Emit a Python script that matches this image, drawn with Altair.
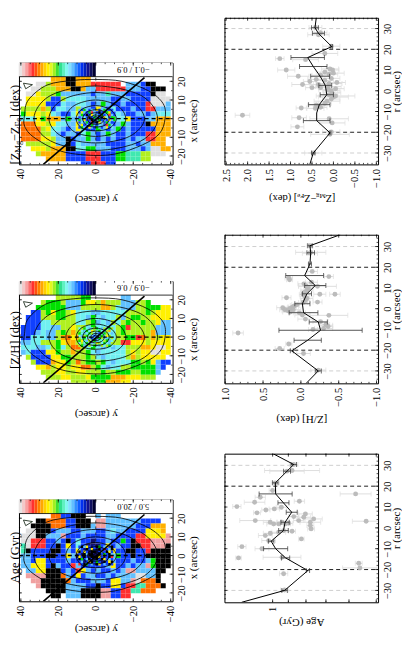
import altair as alt
import pandas as pd

SERIF = "Liberation Serif"
PAL = {"a":"#e0e0e0","p":"#f0a0a0","r":"#ff3030","o":"#ff7000","m":"#ffb000","y":"#fff000","l":"#b0f020",
       "g":"#00e000","t":"#40e8b0","c":"#70f0f0","s":"#60c0ff","b":"#1040ff","d":"#0020c0","n":"#101070","k":"#000000"}
CBAR = ["#e8e4e4","#f4c8c8","#f8a0a0","#fc6c6c","#ff3030","#ff5010","#ff8000","#ffa800","#ffd000","#fff000",
        "#e0f820","#a0f020","#40e030","#30e090","#60f0c0","#80f8f0","#80e0ff","#60c0ff","#3090ff","#1060ff",
        "#0030f0","#0020c0","#101090","#101060","#000030"]

MAP_Z = ["......mmmkkmmm................",
"...aalmmmkkmmmrrrrrr.sssbkk...",
"..aalllmmmkkmssrrrrrrsssbbkkk.",
".aaylllgssssssbsstsssbbbbbkaa.",
".yyyylbblccccsssssbbssbbbbaaaa",
".yyyybbbcssccsbsgsbbsbbbbraaas",
"llllmlbccsslssbysbcbbbsbbrrsss",
"gyyylycsbbcysbsbsgbcsbbssbsccc",
"cccygmmmsgssbybkbygccybbbssmmm",
"oooyylyccssybbkbysbsgsbbbkmmmm",
"oooolyccsbsysbbgsbsgbsbbbbbmmm",
"oooollcsbssbcgsbsgsbbsbbbrrmmm",
"ooooyylsskbssgsbsbsbbsbssrrmm.",
".lllllysskbcsssssbbbbssbssmmm.",
"..yyylmmmkkccggsssbbbsssbsaamm",
"...lmmmmmbbbbrrrbbbggtttllaaa.",
".....mmmmbbbbrrrbbbggtttll....",
"............bbrrrbb..........."]
MAP_H = [".......lllllgg......ss........",
"....lggglsssgyylmlllsssllg....",
"...ggggggsssllllmmlcsssllgggyy",
"..bblgygglycccsscccccllllglyyy",
".bbblllggllccsgcscclslggllyyyy",
".bbbcclllllcclgscslclgllgllyss",
"bbbbccssllyllcgcccclgrlllllsss",
"bbbscsslglmlgsccscclglllllmsss",
"bbcccsslmoymgysbsgcllggrolmlyy",
"sscclllgymmlgllgcsllrryyylyyyy",
"cccssclgcloolcgcscscclllmmyaay",
"scbbbyygllmllgcsccccclylyyaayy",
".lbbbbyygglllglcscccclmlyyyyy.",
"..lbbbmyyglolgglgcscccgglgysbb",
"...yymlyylyyoolgcsccllgggggsb.",
"....lllyyllyylllgllgggllgggs..",
".....lllyylllyggggmmmyyylll...",
"..........lllllggmmmyy........"]
MAP_A = ["......oobbkkk..s.sss..........",
"...kkoooobbkkk.ppsssssssbbbb..",
"..kkkkooobbkkksppssssssbbbmmm.",
".aakkkbsssbbsssbbscssbbbbyyym.",
"aaakkssspbbbsbbbbssbbbbrryyyyp",
"aarrrbbsbkbcbbnbbsbbgbkrrrpppp",
"tarrrbbkbybcbnnnbybsbbkkrrpppk",
"tkbbbbkkbsbybkkkbsybbkkbbrkkkk",
"ssbbbkkbbysnkknnybsgbbkbbkkkkk",
"ssbyybbbbsbbnknbbysbbbsbbsgkkk",
"ssyyybksbbrsbbbbbsybbsbsspgkkk",
".ssyykkkbsbrysbsbbsbsppsssskk.",
".ppppkkkosbybssbbsbssssaassk..",
"..ppkkkkkosbbbsssbyysspaoook..",
"...pkkkkkssssbbkbbyybrrttoook.",
".....kkkkssskkkkppbbrrttooo...",
"......kk.ssskkkkppbbrr........",
".............................."]
FINE_Z = ["sbgsbcsybsgsbb","bysbgrsbkbsgyb","sgbkbyscbgbsrs","bscbkbgsbkycbg",
          "gsybbkbsgbsbys","bcsgbrbkysbgsb","sybsbgsbcsbrgs","bgsbysbgsbsybc"]
FINE_H = ["clgcsclgcslcgl","lcsgcylcgcslmc","gcscglcsbcglcs","cslgcsbscgcylc",
          "lcgcsbscglcscl","gycslcgscclgsc","clcgcscylcgcsl","lgsclcgcslclgc"]
FINE_A = ["bksybnbkgbsybk","sbnkbybnkbrbsk","kbybnkknbsbkyb","bnkskknnkbgbks",
          "ybkbnkkkybnbkr","kgbskbnkbkybsb","bsnbykbgbnkbyk","rbkgbsbkybsbkb"]
CONT_Y = [[38,36,26,12,0,-14,-28,-36,-37,-34,-25,-10,5,20,33,38],
          [33,24,0,-24,-33,-24,0,24],[25,18,0,-18,-26,-18,0,18],[16,11.5,0,-11.5,-16,-11.5,0,11.5],
          [10.5,7.5,0,-7.5,-11,-7.5,0,7.5],[7,5,0,-5,-7.2,-5,0,5],[4.4,3.1,0,-3.1,-4.6,-3.1,0,3.1],
          [2.7,1.9,0,-1.9,-2.8,-1.9,0,1.9],[1.4,1,0,-1,-1.4,-1,0,1]]
CONT_X = [[2,10,18,20.5,21,20,15,8,0,-8,-14,-19,-19.5,-17,-10,-4],
          [0,12.5,17.5,12.5,0,-12,-17,-12],[0,10,14,10,0,-9.5,-13,-9.5],[0,7,10,7,0,-7,-9.5,-7],
          [0,5,7,5,0,-5,-6.5,-5],[0,3.4,4.8,3.4,0,-3.4,-4.5,-3.4],[0,2.3,3.2,2.3,0,-2.3,-3.1,-2.3],
          [0,1.4,2,1.4,0,-1.4,-2,-1.4],[0,.7,1,.7,0,-.7,-1,-.7]]
TRI_Y = [38.6,33.8,37.4,38.6]
TRI_X = [19,18.2,16,19]
DIAG_Y = [28,-26]
DIAG_X = [-24.5,22]

# profile: r, value, half-error
Z_R = [-30,-21,-19.8,-17.4,-15.5,-13,-11.8,-13.5,-8.3,-8.5,-8,-7.5,-6.8,-6,-5,-4,-3,-2.5,-2,-1,0,.5,1,1.5,1.5,2,3,3,3.5,4,4.5,5,5.5,6,7,7.5,8,8.5,9,10,10,10.5,15.5,15,18,21.5,27,28,30.5]
Z_V = [.47,.08,.05,.84,.03,.8,2.12,.1,.75,.42,.3,.35,.4,.2,.15,.05,0,-.05,.1,.03,.05,.12,-.05,.3,.5,.12,.72,.35,.1,-.08,.55,.2,.4,.05,.82,.3,.1,0,.2,1.1,.02,.08,1.25,.65,.2,.05,.35,.3,.42]
Z_E = [.2,.45,.2,.15,.3,.17,.17,.45,.12,.2,.15,.12,.2,.15,.3,.2,.35,.45,.2,.2,.2,.22,.2,.2,.15,.3,.25,.2,.3,.2,.15,.2,.2,.2,.25,.2,.2,.25,.2,.2,.15,.2,.1,.3,.3,.2,.25,.15,.15]
Z_LR = [-35.5,-30,-20.3,-14.4,-10.7,-6.7,-1.9,2.6,7,11.7,16,21.3,27.7,30.4,35.2]
Z_LV = [.55,.47,.08,.39,.39,.33,.155,.19,.31,.47,.6,.04,.35,.43,.4]
Z_LE = [0,.04,.02,.31,0,.25,.155,.15,.22,.32,.39,.02,.14,.08,0]

H_R = [-11.7,-19.2,-17,-21.6,-29.6,30.4,27.2,26.8,18,15.5,14.8,14,12.8,10.8,7,7,5.3,3.2,.5,-.5,-1,-1.6,-3.2,-5,-6.2,-7.6,-8.6,-9.5,-10,-8,9,8,7,6,5,4,3,2,1.5,1,.5,0,-.5,11,10,12,-2,-3]
H_V = [.83,.28,.16,-.035,-.23,-.12,-.13,-.12,-.15,-.37,.16,.15,-.14,-.22,-.45,-.25,.19,-.22,.24,.21,.17,.14,-.37,-.06,-.26,-.33,-.36,-.3,-.16,-.34,-.08,-.05,-.03,-.05,-.08,-.06,-.03,.05,.08,.1,.12,.15,.1,-.07,-.1,-.04,.02,-.02]
H_E = [.07,.06,.04,.09,.1,.04,.2,.1,.07,.06,.05,.04,.08,.25,.07,.08,.06,.06,.08,.07,.08,.1,.25,.1,.1,.05,.06,.12,.06,.08,.08,.05,.05,.06,.08,.06,.06,.07,.06,.07,.06,.05,.1,.1,.06,.08,.08,.1]
H_LR = [-36,-30,-20.3,-15.2,-10.4,-6.4,-1.9,2.4,7.2,11.2,16,21.6,27,30.4,35.7]
H_LV = [-.07,-.23,.12,-.09,-.26,-.23,-.035,-.02,-.08,-.19,-.05,-.12,-.13,-.12,-.52]
H_LE = [0,.04,.02,.18,.55,.12,.19,.1,.06,.14,.25,.02,.05,.03,0]

A_R = [16.3,3.2,12.8,12.3,14.7,17.9,7.2,8.6,9.1,9.9,10.2,-14.4,-9,-10,3.5,6.7,5.1,3.5,4.3,2.7,1.1,-.5,5.4,2.7,1.9,1.9,2.7,1.9,2.2,-2.6,-2.1,-1.3,-1.6,-5.3,-6.1,-3.7,27.2,27.5,30.4,21.6,-14.1,-17,-19.2,-22,-29.8]
A_V = [.574,.535,.836,1.128,1.086,1.0,1.11,1.046,.989,.943,1.27,1.256,1.228,1.074,1.123,.803,.812,.84,.76,.777,.777,.773,.868,1.016,.993,.96,.939,.918,.898,1.016,.96,.929,.878,.825,1.027,1.05,.908,.878,.868,.982,.939,.562,.558,.929,.923]
A_E = [.045,.04,.015,.03,.015,.01,.01,.012,.015,.015,.012,.008,.012,.02,.045,.02,.02,.015,.025,.03,.01,.01,.015,.02,.02,.015,.015,.015,.012,.02,.02,.01,.01,.008,.02,.02,.05,.08,.012,.012,.055,.01,.05,.012,.012]
A_LR = [-35.7,-30,-20.5,-14.4,-10,-6.4,-1.3,2.7,7.5,12,16.3,21.6,27.2,30.4,35.5]
A_LV = [1.23,.923,.79,.917,.98,1.01,.93,.92,.88,.93,.98,.982,.908,.868,.995]
A_LE = [0,.008,.005,.012,.035,.008,.014,.012,.016,.016,.048,.008,.01,.008,0]

V_MIN = dict(y=[x for x in range(-40,41,5)], x=[x for x in range(-20,21,5)])

def rects(rows, y_start, x_start, cell):
    out = []
    for j, row in enumerate(rows):
        for i, ch in enumerate(row):
            if ch != ".":
                out.append(dict(a=y_start-i*cell, a2=y_start-(i+1)*cell, b=x_start-j*cell, b2=x_start-(j+1)*cell, c=PAL[ch]))
    return pd.DataFrame(out)

def inner_ticks(xs, ys, sx, sy, w, h, xfield_log=False, size=3):
    layers = []
    for t0, t1 in ((0, size), (h - size, h)):
        layers.append(alt.Chart(pd.DataFrame({"t": xs})).mark_rule(color="black", strokeWidth=.7).encode(
            x=alt.X("t:Q", scale=sx, axis=None), y=alt.value(t0), y2=alt.value(t1)))
    for t0, t1 in ((0, size), (w - size, w)):
        layers.append(alt.Chart(pd.DataFrame({"t": ys})).mark_rule(color="black", strokeWidth=.7).encode(
            y=alt.Y("t:Q", scale=sy, axis=None), x=alt.value(t0), x2=alt.value(t1)))
    return layers

def base_axes(xv, yv, sx, sy, xtitle, ytitle, xfmt=None, title_pad=22, y_title_y=None, y_title_pad=9, xlab=None):
    ax = dict(values=xlab or xv, orient="bottom", labelAngle=270, labelAlign="right", labelBaseline="middle", ticks=False,
              domain=False, grid=False, labelPadding=4, title=xtitle if xtitle else None, titleAngle=180,
              titlePadding=title_pad, titleFontWeight="normal", labelFlush=False, labelOverlap=False, titleX=77)
    if xfmt: ax["format"] = xfmt
    ay = dict(values=yv, orient="right", labelAngle=270, labelAlign="center", labelBaseline="top", ticks=False,
              domain=False, grid=False, labelPadding=4, title=ytitle, titleAngle=270, titlePadding=y_title_pad,
              titleFontWeight="normal", labelFlush=False, labelOverlap=False)
    if y_title_y is not None: ay["titleY"] = y_title_y
    n = max(len(xv), len(yv))
    d = pd.DataFrame({"a": (xv * n)[:n], "b": (yv * n)[:n]})
    return alt.Chart(d).mark_point(opacity=0).encode(
        x=alt.X("a:Q", scale=sx, axis=alt.Axis(**ax)),
        y=alt.Y("b:Q", scale=sy, axis=alt.Axis(**ay)))

def map_panel(rows, fine, vmin, vmax, pieces, h=102, tpad=22):
    W = 154
    sx = alt.Scale(domain=[41, -41], nice=False, zero=False)
    sy = alt.Scale(domain=[-24.5, 30], nice=False, zero=False)
    X = lambda f: alt.X(f, type="quantitative", scale=sx, axis=None)
    Y = lambda f: alt.Y(f, type="quantitative", scale=sy, axis=None)
    L = [base_axes([40,20,0,-20,-40], [20,10,0,-10,-20], sx, sy, "y (arcsec)", "x (arcsec)",
                   title_pad=tpad, y_title_y=58, y_title_pad=11)]
    for df in (rects(rows, 40, 22.5, 8/3), rects(fine, 9.33, 5.33, 4/3)):
        L.append(alt.Chart(df).mark_rect(clip=True, strokeWidth=0).encode(
            x=X("a"), x2=alt.X2("a2"), y=Y("b"), y2=alt.Y2("b2"), color=alt.Color("c:N", scale=None)))
    cd = pd.DataFrame([dict(n=k, o=i, a=a, b=b) for k, (ya, xa) in enumerate(zip(CONT_Y, CONT_X)) for i, (a, b) in enumerate(zip(ya, xa))])
    L.append(alt.Chart(cd).mark_line(interpolate="cardinal-closed", tension=0, color="black", strokeWidth=.8, clip=True).encode(
        x=X("a"), y=Y("b"), detail="n:N", order="o:Q"))
    L.append(alt.Chart(pd.DataFrame({"b": [0]})).mark_rule(color="black", strokeWidth=1.4, strokeDash=[4, 3]).encode(
        y=Y("b"), x=alt.value(0), x2=alt.value(W)))
    L.append(alt.Chart(pd.DataFrame({"a": [0], "b": [-24.5], "b2": [22.5]})).mark_rule(color="black", strokeWidth=.7, strokeDash=[3, 3]).encode(
        x=X("a"), y=Y("b"), y2=alt.Y2("b2")))
    L.append(alt.Chart(pd.DataFrame({"a": DIAG_Y, "b": DIAG_X})).mark_line(color="black", strokeWidth=1.6, clip=True).encode(x=X("a"), y=Y("b")))
    L.append(alt.Chart(pd.DataFrame({"a": TRI_Y, "b": TRI_X, "o": range(4)})).mark_line(color="#203020", strokeWidth=.9).encode(x=X("a"), y=Y("b"), order="o:Q"))
    st = 41 / len(CBAR)
    bar = pd.DataFrame([dict(a=41 - i*st, a2=41 - (i+1)*st, b=22.5, b2=30, c=c) for i, c in enumerate(CBAR)])
    L.append(alt.Chart(pd.DataFrame({"a":[41],"a2":[-41],"b":[22.5],"b2":[30]})).mark_rect(color="white").encode(x=X("a"),x2=alt.X2("a2"),y=Y("b"),y2=alt.Y2("b2")))
    L.append(alt.Chart(bar).mark_rect(strokeWidth=0).encode(x=X("a"), x2=alt.X2("a2"), y=Y("b"), y2=alt.Y2("b2"), color=alt.Color("c:N", scale=None)))
    L.append(alt.Chart(pd.DataFrame({"b": [22.5]})).mark_rule(color="black", strokeWidth=.8).encode(y=Y("b"), x=alt.value(0), x2=alt.value(W)))
    L.append(alt.Chart(pd.DataFrame({"a": [-20], "b": [26.2], "t": [f"{vmin}   /   {vmax}"]})).mark_text(
        angle=180, fontSize=8.5, font=SERIF, color="black").encode(x=X("a"), y=Y("b"), text="t:N"))
    L += inner_ticks([40,20,0,-20,-40], [20,10,0,-10,-20], sx, sy, W, h, size=3)
    L += inner_ticks(V_MIN["y"], V_MIN["x"], sx, sy, W, h, size=1.5)
    for txt, pos, fs, dx in pieces:
        L.append(alt.Chart(pd.DataFrame({"t": [txt]})).mark_text(angle=270, fontSize=fs, font=SERIF, color="black", align="left", baseline="alphabetic").encode(
            x=alt.value(dx), y=alt.value(pos), text="t:N"))
    return alt.layer(*L).resolve_axis(x="independent", y="independent").properties(width=W, height=h)

def prof_panel(R, V, E, LR, LV, LE, dom, rdom, h, xv, xminor, ytitle_x, fmt, log=False, tpad=24, pieces=None, xlab=None):
    W = 154
    sx = alt.Scale(domain=dom, nice=False, zero=False, type="log" if log else "linear")
    sy = alt.Scale(domain=rdom, nice=False, zero=False)
    X = lambda f: alt.X(f, type="quantitative", scale=sx, axis=None)
    Y = lambda f: alt.Y(f, type="quantitative", scale=sy, axis=None)
    L = [base_axes(xv, [-30,-20,-10,0,10,20,30], sx, sy, ytitle_x, "r (arcsec)", xfmt=fmt, title_pad=tpad, y_title_y=h/2, y_title_pad=9, xlab=xlab)]
    def lo(v, e): return v / 10**e if log else v - e
    def hi(v, e): return v * 10**e if log else v + e
    g = pd.DataFrame({"r": R, "v": V, "l": [lo(v,e) for v,e in zip(V,E)], "h": [hi(v,e) for v,e in zip(V,E)]})
    for r0, col, dash in ((30,"#cfcfcf",[4,3]),(-30,"#cfcfcf",[4,3]),(20,"#222222",[4,3]),(-20,"#222222",[4,3])):
        L.append(alt.Chart(pd.DataFrame({"r":[r0]})).mark_rule(color=col, strokeWidth=1, strokeDash=dash).encode(y=Y("r"), x=alt.value(0), x2=alt.value(W)))
    L.append(alt.Chart(g).mark_rule(color="#dedede", strokeWidth=1, clip=True).encode(x=X("l"), x2=alt.X2("h"), y=Y("r")))
    for f in ("l", "h"):
        L.append(alt.Chart(g).mark_tick(orient="vertical", size=5, thickness=1, color="#dedede", clip=True).encode(x=X(f), y=Y("r")))
    L.append(alt.Chart(g).mark_circle(size=24, color="#b8b8b8", opacity=.95, clip=True).encode(x=X("v"), y=Y("r")))
    b = pd.DataFrame({"r": LR, "v": LV, "l": [lo(v,e) for v,e in zip(LV,LE)], "h": [hi(v,e) for v,e in zip(LV,LE)]})
    be = b[[e > 0 for e in LE]]
    L.append(alt.Chart(be).mark_rule(color="#555555", strokeWidth=1, clip=True).encode(x=X("l"), x2=alt.X2("h"), y=Y("r")))
    for f in ("l", "h"):
        L.append(alt.Chart(be).mark_tick(orient="vertical", size=5, thickness=1, color="#333333", clip=True).encode(x=X(f), y=Y("r")))
    L.append(alt.Chart(b).mark_line(color="black", strokeWidth=1, clip=True).encode(x=X("v"), y=Y("r"), order="r:Q"))
    L += inner_ticks(xv, [-30,-20,-10,0,10,20,30], sx, sy, W, h, size=3)
    L += inner_ticks(xminor, list(range(-34, 35, 2)), sx, sy, W, h, size=1.5)
    for txt, pos, fs, dy in (pieces or []):
        L.append(alt.Chart(pd.DataFrame({"t": [txt]})).mark_text(angle=180, fontSize=fs, font=SERIF, color="black", align="left", baseline="middle").encode(
            x=alt.value(pos), y=alt.value(h + 34 + dy), text="t:N"))
    return alt.layer(*L).resolve_axis(x="independent", y="independent").properties(width=W, height=h)

P_Z = [("[Z", 102, 12.5, .5), ("Mg", 90.2, 8.5, 2), ("−Z", 78.8, 12.5, .5), ("Fe", 64, 8.5, 2), ("] (dex)", 55.8, 12.5, .5)]
P_H = [("[Z/H] (dex)", 88, 12.5, .5)]
P_A = [("Age (Gyr)", 84, 12.5, .5)]

m1 = map_panel(MAP_Z, FINE_Z, "−0.1", "0.9", P_Z, tpad=20)
m2 = map_panel(MAP_H, FINE_H, "−0.9", "0.6", P_H, tpad=16)
m3 = map_panel(MAP_A, FINE_A, "5.0", "20.0", P_A, tpad=13)

ZP = [("[Z", 111, 10.5, 0), ("Mg", 101.5, 7, -2), ("−Z", 92, 10.5, 0), ("Fe", 80, 7, -2), ("] (dex)", 73, 10.5, 0)]
p1 = prof_panel(Z_R, Z_V, Z_E, Z_LR, Z_LV, Z_LE, [2.54, -1.04], [-35.5, 35.2], 147,
                [2.5,2.0,1.5,1.0,.5,0,-.5,-1.0], [2.5-i*.1 for i in range(36)], None, ".1f", pieces=ZP)
p2 = prof_panel(H_R, H_V, H_E, H_LR, H_LV, H_LE, [1.01, -1.02], [-36, 35.7], 149,
                [1.0,.5,0,-.5,-1.0], [1-i*.1 for i in range(21)], "[Z/H] (dex)", ".1f", tpad=18)
p3 = prof_panel(A_R, A_V, A_E, A_LR, A_LV, A_LE, [1.38, .494], [-35.7, 35.6], 149,
                [1,.9,.8,.7,.6,.5], [1,.9,.8,.7,.6,.5], "Age (Gyr)", "d", log=True, tpad=16, xlab=[1])

spacer = alt.Chart(pd.DataFrame({"a": [0]})).mark_point(opacity=0).encode(
    x=alt.X("a:Q", axis=None), y=alt.Y("a:Q", axis=None)).properties(width=154, height=1, view=alt.ViewConfig(stroke=None))

maps = alt.vconcat(m1, m2, m3, spacing=117, bounds="flush")
col1 = alt.vconcat(spacer, maps, spacing=40)
col2 = alt.vconcat(p1, p2, p3, spacing=70.5, bounds="flush")
chart = alt.hconcat(col1, col2, spacing=21).properties(padding={"left":0,"top":6,"right":0,"bottom":0}).configure_view(
    stroke="black", strokeWidth=1).configure_axis(
    labelFont=SERIF, titleFont=SERIF, labelFontSize=10.5, titleFontSize=11, labelColor="black", titleColor="black"
).resolve_scale(color="independent")
chart.save("out.html", embed_options={"renderer": "svg", "actions": False})
